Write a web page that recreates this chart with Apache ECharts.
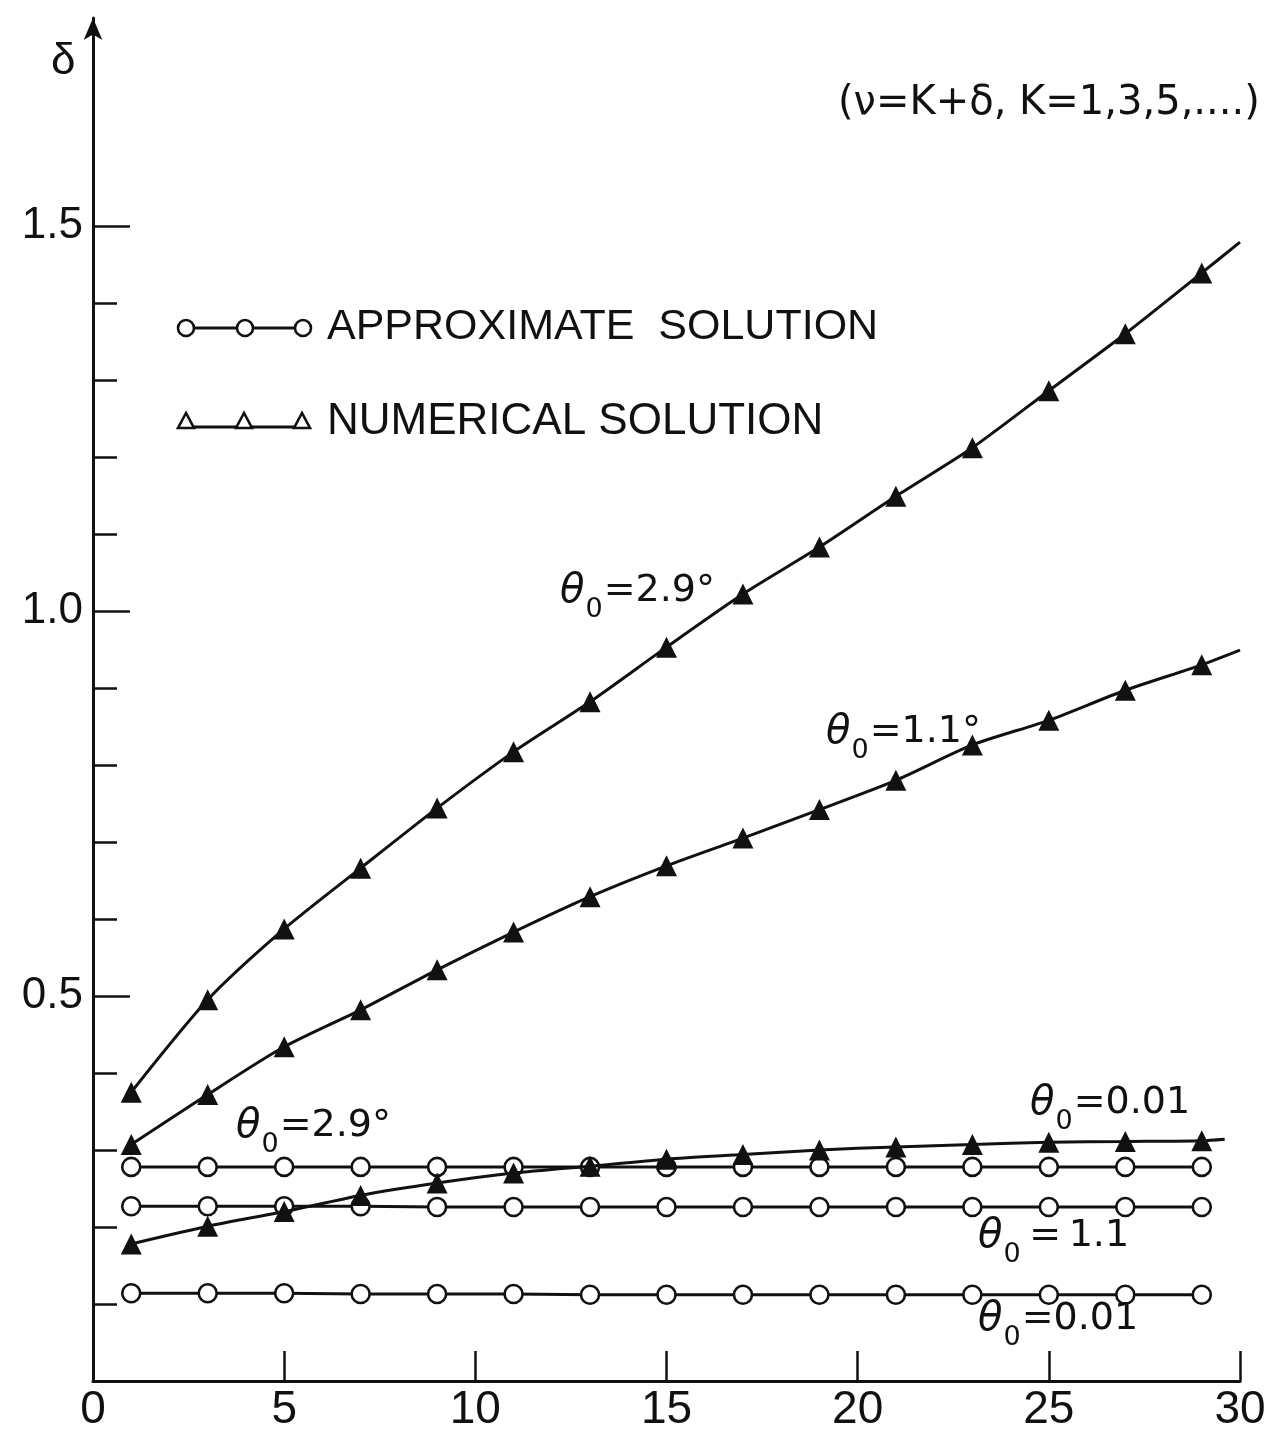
<!DOCTYPE html>
<html>
<head>
<meta charset="utf-8">
<script src="https://cdn.jsdelivr.net/npm/echarts@6/dist/echarts.min.js"></script>
<style>
html,body{margin:0;padding:0;background:#fff;}
#chart{width:1269px;height:1433px;}
</style>
</head>
<body>
<div id="chart"></div>
<script>
// ---- data ----
const K = [1, 3, 5, 7, 9, 11, 13, 15, 17, 19, 21, 23, 25, 27, 29];

// numerical solution (filled triangles)
const numer29 = [0.375, 0.495, 0.587, 0.666, 0.744, 0.817, 0.882, 0.953, 1.022, 1.083, 1.149, 1.212, 1.286, 1.360, 1.439];
const numer11 = [0.307, 0.372, 0.434, 0.482, 0.534, 0.583, 0.629, 0.669, 0.705, 0.742, 0.780, 0.826, 0.858, 0.897, 0.930];
const numer001 = [0.178, 0.201, 0.220, 0.241, 0.257, 0.270, 0.279, 0.288, 0.294, 0.300, 0.304, 0.307, 0.310, 0.311, 0.312];
// where each numerical curve's drawn line ends (beyond the last marker)
const numerEndX = [30.0, 30.0, 29.6];
const numerEndY = [1.479, 0.949, 0.314];

// approximate solution (open circles)
const approx29 = [0.278, 0.278, 0.278, 0.278, 0.278, 0.278, 0.278, 0.278, 0.278, 0.278, 0.278, 0.278, 0.278, 0.278, 0.278];
const approx11 = [0.227, 0.227, 0.227, 0.227, 0.226, 0.226, 0.226, 0.226, 0.226, 0.226, 0.226, 0.226, 0.226, 0.226, 0.226];
const approx001 = [0.114, 0.114, 0.114, 0.113, 0.113, 0.113, 0.112, 0.112, 0.112, 0.112, 0.112, 0.112, 0.112, 0.112, 0.112];

// axes
const xTicks = [5, 10, 15, 20, 25, 30];
const xLabels = [0, 5, 10, 15, 20, 25, 30];
const yMajor = [0.5, 1.0, 1.5];
const yMinor = [0.1, 0.2, 0.3, 0.4, 0.6, 0.7, 0.8, 0.9, 1.1, 1.2, 1.3, 1.4];

const legendTexts = ['APPROXIMATE  SOLUTION', 'NUMERICAL SOLUTION'];
const noteText = '(\u03BD=K+\u03B4, K=1,3,5,....)';

// ---- build ----
const FONT = "'Liberation Sans', Arial, sans-serif";
const WFONT = "'DejaVu Sans', 'Liberation Sans', sans-serif";
const BLACK = '#111';

function pairs(xs, ys) { return xs.map((x, i) => [x, ys[i]]); }

function numerSeries(name, ys, idx) {
  const data = pairs(K, ys);
  data.push({ value: [numerEndX[idx], numerEndY[idx]], symbol: 'none' });
  return {
    name, type: 'line', data, smooth: 0.25,
    symbol: 'triangle', symbolSize: [21, 21],
    showAllSymbol: true,
    lineStyle: { color: BLACK, width: 3 },
    itemStyle: { color: BLACK, borderWidth: 0 },
    z: 4, animation: false
  };
}
function approxSeries(name, ys) {
  return {
    name, type: 'line', data: pairs(K, ys),
    symbol: 'circle', symbolSize: 18,
    showAllSymbol: true,
    lineStyle: { color: BLACK, width: 3 },
    itemStyle: { color: '#fff', borderColor: BLACK, borderWidth: 2.6 },
    z: 3, animation: false
  };
}

function thetaLabel(left, cy, rest) {
  return {
    type: 'text', left: left, top: cy - 40, z: 10,
    style: {
      text: '{t|\u03B8}{s|0}{n|' + rest + '}',
      rich: {
        t: { fontSize: 40, fontStyle: 'italic', fontFamily: WFONT, fill: BLACK, lineHeight: 44 },
        s: { fontSize: 27, fontFamily: WFONT, fill: BLACK, lineHeight: 44, padding: [36, 1, 0, 1] },
        n: { fontSize: 38, fontFamily: WFONT, fill: BLACK, lineHeight: 44 }
      }
    }
  };
}

const graphics = [
  // y-axis name
  { type: 'text', left: 51, top: 40, style: { text: '\u03B4', fontSize: 44, fontFamily: FONT, fill: BLACK } },
  // note
  { type: 'text', left: 838, top: 84, style: { text: noteText, fontSize: 40, fontFamily: WFONT, fill: BLACK } },
  // legend row 1
  { type: 'line', shape: { x1: 186, y1: 328, x2: 303, y2: 328 }, style: { stroke: BLACK, lineWidth: 3 } },
  { type: 'circle', shape: { cx: 186, cy: 328, r: 8 }, style: { fill: '#fff', stroke: BLACK, lineWidth: 2.6 } },
  { type: 'circle', shape: { cx: 245, cy: 328, r: 8 }, style: { fill: '#fff', stroke: BLACK, lineWidth: 2.6 } },
  { type: 'circle', shape: { cx: 303, cy: 328, r: 8 }, style: { fill: '#fff', stroke: BLACK, lineWidth: 2.6 } },
  { type: 'text', left: 327, top: 306, style: { text: legendTexts[0], fontSize: 43, fontFamily: FONT, fill: BLACK } },
  // legend row 2
  { type: 'line', shape: { x1: 186, y1: 427, x2: 303, y2: 427 }, style: { stroke: BLACK, lineWidth: 3 } },
  { type: 'polygon', shape: { points: [[186, 413], [178, 428], [194, 428]] }, style: { fill: '#fff', stroke: BLACK, lineWidth: 2.6 } },
  { type: 'polygon', shape: { points: [[244, 413], [236, 428], [252, 428]] }, style: { fill: '#fff', stroke: BLACK, lineWidth: 2.6 } },
  { type: 'polygon', shape: { points: [[302, 413], [294, 428], [310, 428]] }, style: { fill: '#fff', stroke: BLACK, lineWidth: 2.6 } },
  { type: 'text', left: 327, top: 400, style: { text: legendTexts[1], fontSize: 44, fontFamily: FONT, fill: BLACK } },
  // curve labels
  thetaLabel(560, 600, '=2.9\u00B0'),
  thetaLabel(826, 741, '=1.1\u00B0'),
  thetaLabel(236, 1135, '=2.9\u00B0'),
  thetaLabel(1030, 1112, '=0.01'),
  thetaLabel(978, 1245, '\u2009=\u20091.1'),
  thetaLabel(978, 1328, '=0.01')
];

const chart = echarts.init(document.getElementById('chart'), null, { renderer: 'canvas' });
chart.setOption({
  animation: false,
  backgroundColor: '#fff',
  grid: { left: 93, right: 29, top: 18, bottom: 50, containLabel: false },
  xAxis: {
    type: 'value', min: 0, max: 30, interval: 5,
    axisLine: { show: true, onZero: false, lineStyle: { color: BLACK, width: 3 } },
    axisTick: { show: true, inside: true, length: 30, customValues: xTicks, lineStyle: { color: BLACK, width: 2.5 } },
    axisLabel: { show: true, customValues: xLabels, margin: 6, fontSize: 46, fontFamily: FONT, color: BLACK },
    splitLine: { show: false }
  },
  yAxis: [{
    type: 'value', min: 0, max: 1.77, interval: 0.5,
    axisLine: { show: true, onZero: false, symbol: ['none', 'arrow'], symbolSize: [14, 22], lineStyle: { color: BLACK, width: 3 } },
    axisTick: { show: true, inside: true, length: 37, customValues: yMajor, lineStyle: { color: BLACK, width: 2.5 } },
    axisLabel: { show: true, customValues: yMajor, margin: 10, fontSize: 44, fontFamily: FONT, color: BLACK,
      formatter: v => v.toFixed(1) },
    splitLine: { show: false }
  }, {
    type: 'value', min: 0, max: 1.77, interval: 0.1, position: 'left',
    axisLine: { show: false },
    axisTick: { show: true, inside: true, length: 24, customValues: yMinor, lineStyle: { color: BLACK, width: 2.5 } },
    axisLabel: { show: false },
    splitLine: { show: false }
  }],
  series: [
    approxSeries('approx 2.9', approx29),
    approxSeries('approx 1.1', approx11),
    approxSeries('approx 0.01', approx001),
    numerSeries('numer 2.9', numer29, 0),
    numerSeries('numer 1.1', numer11, 1),
    numerSeries('numer 0.01', numer001, 2)
  ],
  graphic: graphics
});
</script>
</body>
</html>
